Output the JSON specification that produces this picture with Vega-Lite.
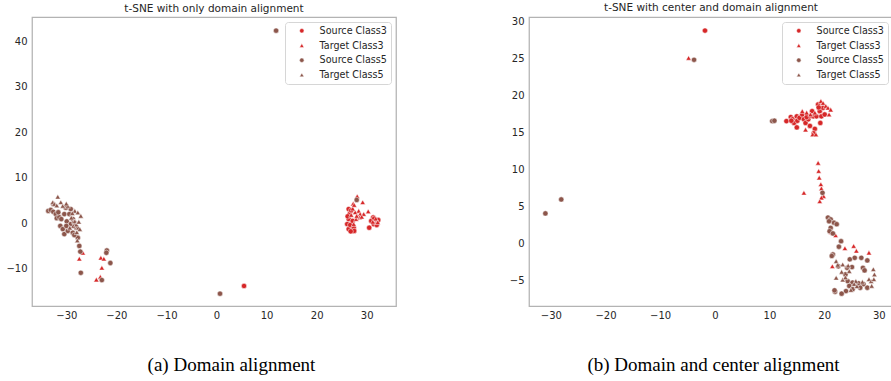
{
  "$schema": "https://vega.github.io/schema/vega-lite/v6.json",
  "background": "white",
  "padding": {"left": 5, "top": 2, "right": 0, "bottom": 0},
  "spacing": 111,
  "config": {
    "view": {"stroke": "#b3b3b3", "strokeWidth": 1.25},
    "font": "DejaVu Sans",
    "axis": {
      "grid": false, "ticks": false, "domain": false,
      "labelFont": "DejaVu Sans", "labelFontSize": 10, "labelColor": "#262626",
      "titleFont": "Liberation Serif", "titleFontSize": 19, "titleFontWeight": "normal", "titleColor": "#000000"
    },
    "axisX": {"labelPadding": 4},
    "axisY": {"labelPadding": 5},
    "title": {"font": "DejaVu Sans", "fontSize": 10.5, "fontWeight": "normal", "color": "#262626", "offset": 3},
    "legend": {
      "orient": "top-right", "offset": 5, "padding": 4,
      "strokeColor": "#d6d6d6", "fillColor": "white", "cornerRadius": 3,
      "labelFont": "DejaVu Sans", "labelFontSize": 9.6, "labelColor": "#262626",
      "symbolSize": 20, "symbolOffset": 8, "labelOffset": 13, "rowPadding": 3.7,
      "symbolStrokeWidth": 0.5, "symbolStrokeColor": "white"
    }
  },
  "datasets": {
    "a": [
      {"x": 5.5, "y": -13.8, "g": "Source Class3"},
      {"x": 26.4, "y": 3.1, "g": "Source Class3"},
      {"x": 26.6, "y": 2.0, "g": "Source Class3"},
      {"x": 26.4, "y": 0.9, "g": "Source Class3"},
      {"x": 26.1, "y": -0.2, "g": "Source Class3"},
      {"x": 26.4, "y": -1.3, "g": "Source Class3"},
      {"x": 27.1, "y": -1.7, "g": "Source Class3"},
      {"x": 27.4, "y": -1.0, "g": "Source Class3"},
      {"x": 26.7, "y": -0.4, "g": "Source Class3"},
      {"x": 27.5, "y": -1.7, "g": "Source Class3"},
      {"x": 26.9, "y": 2.8, "g": "Source Class3"},
      {"x": 27.2, "y": 0.5, "g": "Source Class3"},
      {"x": 26.8, "y": -1.8, "g": "Source Class3"},
      {"x": 31.3, "y": 1.25, "g": "Source Class3"},
      {"x": 31.6, "y": 0.5, "g": "Source Class3"},
      {"x": 32.0, "y": 0.15, "g": "Source Class3"},
      {"x": 32.3, "y": 0.7, "g": "Source Class3"},
      {"x": 30.9, "y": 0.5, "g": "Source Class3"},
      {"x": 30.5, "y": -1.0, "g": "Source Class3"},
      {"x": 31.4, "y": -0.2, "g": "Source Class3"},
      {"x": 32.0, "y": -0.4, "g": "Source Class3"},
      {"x": 31.5, "y": 1.0, "g": "Source Class3"},
      {"x": 26.2, "y": 1.5, "g": "Source Class3"},
      {"x": -26.7, "y": -6.5, "g": "Target Class3"},
      {"x": -27.4, "y": -7.8, "g": "Target Class3"},
      {"x": -23.1, "y": -7.6, "g": "Target Class3"},
      {"x": -22.5, "y": -7.8, "g": "Target Class3"},
      {"x": -22.9, "y": -9.8, "g": "Target Class3"},
      {"x": -23.2, "y": -11.8, "g": "Target Class3"},
      {"x": -24.0, "y": -12.4, "g": "Target Class3"},
      {"x": 28.1, "y": 5.9, "g": "Target Class3"},
      {"x": 27.3, "y": 4.3, "g": "Target Class3"},
      {"x": 29.2, "y": 4.6, "g": "Target Class3"},
      {"x": 30.3, "y": 2.6, "g": "Target Class3"},
      {"x": 28.4, "y": 2.7, "g": "Target Class3"},
      {"x": 28.7, "y": 2.0, "g": "Target Class3"},
      {"x": 27.7, "y": 2.4, "g": "Target Class3"},
      {"x": 27.9, "y": 0.9, "g": "Target Class3"},
      {"x": 28.6, "y": 1.25, "g": "Target Class3"},
      {"x": 29.4, "y": 2.0, "g": "Target Class3"},
      {"x": 27.2, "y": 3.2, "g": "Target Class3"},
      {"x": 28.0, "y": 1.6, "g": "Target Class3"},
      {"x": 26.9, "y": 1.8, "g": "Target Class3"},
      {"x": 29.0, "y": 1.4, "g": "Target Class3"},
      {"x": 27.4, "y": -0.2, "g": "Target Class3"},
      {"x": 31.8, "y": 1.0, "g": "Target Class3"},
      {"x": 32.2, "y": 0.2, "g": "Target Class3"},
      {"x": 31.2, "y": 0.3, "g": "Target Class3"},
      {"x": 27.5, "y": 4.0, "g": "Target Class3"},
      {"x": 11.9, "y": 42.3, "g": "Source Class5"},
      {"x": 0.7, "y": -15.5, "g": "Source Class5"},
      {"x": 28.0, "y": 5.1, "g": "Source Class5"},
      {"x": -33.6, "y": 2.7, "g": "Source Class5"},
      {"x": -33.1, "y": 2.9, "g": "Source Class5"},
      {"x": -32.6, "y": 2.5, "g": "Source Class5"},
      {"x": -32.1, "y": 2.0, "g": "Source Class5"},
      {"x": -31.9, "y": 1.1, "g": "Source Class5"},
      {"x": -31.4, "y": 1.3, "g": "Source Class5"},
      {"x": -30.4, "y": 2.0, "g": "Source Class5"},
      {"x": -31.2, "y": -0.6, "g": "Source Class5"},
      {"x": -30.7, "y": -1.3, "g": "Source Class5"},
      {"x": -30.4, "y": -2.4, "g": "Source Class5"},
      {"x": -29.7, "y": -1.7, "g": "Source Class5"},
      {"x": -29.9, "y": 0.4, "g": "Source Class5"},
      {"x": -29.1, "y": -0.2, "g": "Source Class5"},
      {"x": -28.7, "y": -2.1, "g": "Source Class5"},
      {"x": -28.7, "y": 0.9, "g": "Source Class5"},
      {"x": -28.0, "y": -1.0, "g": "Source Class5"},
      {"x": -29.4, "y": 2.0, "g": "Source Class5"},
      {"x": -29.1, "y": 3.1, "g": "Source Class5"},
      {"x": -30.1, "y": 3.4, "g": "Source Class5"},
      {"x": -31.6, "y": 2.4, "g": "Source Class5"},
      {"x": -27.7, "y": -3.2, "g": "Source Class5"},
      {"x": -27.4, "y": -5.0, "g": "Source Class5"},
      {"x": -27.2, "y": -6.25, "g": "Source Class5"},
      {"x": -27.1, "y": -10.9, "g": "Source Class5"},
      {"x": -21.9, "y": -6.0, "g": "Source Class5"},
      {"x": -22.0, "y": -6.5, "g": "Source Class5"},
      {"x": -21.2, "y": -8.75, "g": "Source Class5"},
      {"x": -22.9, "y": -12.5, "g": "Source Class5"},
      {"x": -32.6, "y": 4.2, "g": "Source Class5"},
      {"x": -28.4, "y": 0.1, "g": "Source Class5"},
      {"x": -30.0, "y": -0.6, "g": "Source Class5"},
      {"x": -28.4, "y": -2.6, "g": "Source Class5"},
      {"x": -31.0, "y": 0.9, "g": "Source Class5"},
      {"x": -31.7, "y": 5.8, "g": "Target Class5"},
      {"x": -32.7, "y": 4.6, "g": "Target Class5"},
      {"x": -32.4, "y": 4.2, "g": "Target Class5"},
      {"x": -31.1, "y": 4.6, "g": "Target Class5"},
      {"x": -30.7, "y": 3.8, "g": "Target Class5"},
      {"x": -29.7, "y": 3.8, "g": "Target Class5"},
      {"x": -28.3, "y": 2.7, "g": "Target Class5"},
      {"x": -27.7, "y": 2.35, "g": "Target Class5"},
      {"x": -27.1, "y": 1.6, "g": "Target Class5"},
      {"x": -27.6, "y": -1.0, "g": "Target Class5"},
      {"x": -27.3, "y": -1.3, "g": "Target Class5"},
      {"x": -28.3, "y": 0.4, "g": "Target Class5"},
      {"x": -29.0, "y": 1.2, "g": "Target Class5"},
      {"x": -30.0, "y": 4.3, "g": "Target Class5"},
      {"x": -31.9, "y": 3.9, "g": "Target Class5"},
      {"x": -28.6, "y": -0.6, "g": "Target Class5"},
      {"x": -28.0, "y": -0.3, "g": "Target Class5"},
      {"x": -27.9, "y": -2.0, "g": "Target Class5"},
      {"x": -27.8, "y": -3.8, "g": "Target Class5"},
      {"x": -29.3, "y": -1.0, "g": "Target Class5"},
      {"x": -27.5, "y": 0.3, "g": "Target Class5"},
      {"x": -28.8, "y": 2.2, "g": "Target Class5"}
    ],
    "b": [
      {"x": -1.8, "y": 28.8, "g": "Source Class3"},
      {"x": 13.1, "y": 16.55, "g": "Source Class3"},
      {"x": 13.9, "y": 17.1, "g": "Source Class3"},
      {"x": 14.2, "y": 16.8, "g": "Source Class3"},
      {"x": 14.5, "y": 16.3, "g": "Source Class3"},
      {"x": 15.0, "y": 17.2, "g": "Source Class3"},
      {"x": 15.1, "y": 16.6, "g": "Source Class3"},
      {"x": 15.0, "y": 15.7, "g": "Source Class3"},
      {"x": 15.5, "y": 17.0, "g": "Source Class3"},
      {"x": 16.0, "y": 17.45, "g": "Source Class3"},
      {"x": 16.3, "y": 16.8, "g": "Source Class3"},
      {"x": 16.6, "y": 16.3, "g": "Source Class3"},
      {"x": 17.1, "y": 16.8, "g": "Source Class3"},
      {"x": 17.3, "y": 17.2, "g": "Source Class3"},
      {"x": 17.4, "y": 15.9, "g": "Source Class3"},
      {"x": 17.8, "y": 17.9, "g": "Source Class3"},
      {"x": 18.0, "y": 17.2, "g": "Source Class3"},
      {"x": 18.3, "y": 15.5, "g": "Source Class3"},
      {"x": 18.6, "y": 17.2, "g": "Source Class3"},
      {"x": 18.9, "y": 18.8, "g": "Source Class3"},
      {"x": 19.2, "y": 17.9, "g": "Source Class3"},
      {"x": 19.5, "y": 17.2, "g": "Source Class3"},
      {"x": 19.8, "y": 18.35, "g": "Source Class3"},
      {"x": 20.1, "y": 17.45, "g": "Source Class3"},
      {"x": 19.3, "y": 16.3, "g": "Source Class3"},
      {"x": 14.0, "y": 16.6, "g": "Source Class3"},
      {"x": 16.8, "y": 17.1, "g": "Source Class3"},
      {"x": 18.1, "y": 14.9, "g": "Source Class3"},
      {"x": 19.0, "y": 18.4, "g": "Source Class3"},
      {"x": -4.8, "y": 25.1, "g": "Target Class3"},
      {"x": 16.0, "y": 17.9, "g": "Target Class3"},
      {"x": 16.6, "y": 15.4, "g": "Target Class3"},
      {"x": 17.9, "y": 14.75, "g": "Target Class3"},
      {"x": 18.5, "y": 14.75, "g": "Target Class3"},
      {"x": 19.4, "y": 19.25, "g": "Target Class3"},
      {"x": 19.8, "y": 19.0, "g": "Target Class3"},
      {"x": 20.3, "y": 18.6, "g": "Target Class3"},
      {"x": 20.7, "y": 18.35, "g": "Target Class3"},
      {"x": 21.2, "y": 18.1, "g": "Target Class3"},
      {"x": 20.9, "y": 17.45, "g": "Target Class3"},
      {"x": 16.8, "y": 17.7, "g": "Target Class3"},
      {"x": 17.5, "y": 17.45, "g": "Target Class3"},
      {"x": 18.3, "y": 17.7, "g": "Target Class3"},
      {"x": 18.9, "y": 10.9, "g": "Target Class3"},
      {"x": 19.0, "y": 9.8, "g": "Target Class3"},
      {"x": 19.1, "y": 8.9, "g": "Target Class3"},
      {"x": 19.4, "y": 8.0, "g": "Target Class3"},
      {"x": 19.5, "y": 7.45, "g": "Target Class3"},
      {"x": 19.9, "y": 6.4, "g": "Target Class3"},
      {"x": 19.5, "y": 6.2, "g": "Target Class3"},
      {"x": 19.2, "y": 5.7, "g": "Target Class3"},
      {"x": 16.3, "y": 6.85, "g": "Target Class3"},
      {"x": 22.1, "y": 1.1, "g": "Target Class3"},
      {"x": 23.8, "y": -0.65, "g": "Target Class3"},
      {"x": 25.4, "y": -0.35, "g": "Target Class3"},
      {"x": 25.9, "y": -1.0, "g": "Target Class3"},
      {"x": 28.2, "y": -1.25, "g": "Target Class3"},
      {"x": 21.5, "y": -3.1, "g": "Target Class3"},
      {"x": 21.3, "y": 1.5, "g": "Target Class3"},
      {"x": -3.8, "y": 24.85, "g": "Source Class5"},
      {"x": -31.0, "y": 4.06, "g": "Source Class5"},
      {"x": -28.1, "y": 5.95, "g": "Source Class5"},
      {"x": 10.5, "y": 16.55, "g": "Source Class5"},
      {"x": 10.9, "y": 16.6, "g": "Source Class5"},
      {"x": 19.7, "y": 6.85, "g": "Source Class5"},
      {"x": 20.7, "y": 3.5, "g": "Source Class5"},
      {"x": 21.2, "y": 3.25, "g": "Source Class5"},
      {"x": 21.8, "y": 2.8, "g": "Source Class5"},
      {"x": 22.3, "y": 2.6, "g": "Source Class5"},
      {"x": 21.2, "y": 2.1, "g": "Source Class5"},
      {"x": 21.0, "y": 1.65, "g": "Source Class5"},
      {"x": 21.6, "y": 1.35, "g": "Source Class5"},
      {"x": 23.1, "y": 0.3, "g": "Source Class5"},
      {"x": 22.7, "y": -0.45, "g": "Source Class5"},
      {"x": 21.6, "y": -1.5, "g": "Source Class5"},
      {"x": 26.8, "y": -1.95, "g": "Source Class5"},
      {"x": 24.7, "y": -2.15, "g": "Source Class5"},
      {"x": 25.6, "y": -1.95, "g": "Source Class5"},
      {"x": 27.9, "y": -2.3, "g": "Source Class5"},
      {"x": 22.6, "y": -3.1, "g": "Source Class5"},
      {"x": 24.2, "y": -3.3, "g": "Source Class5"},
      {"x": 25.1, "y": -3.2, "g": "Source Class5"},
      {"x": 27.1, "y": -3.3, "g": "Source Class5"},
      {"x": 27.4, "y": -3.65, "g": "Source Class5"},
      {"x": 23.9, "y": -4.2, "g": "Source Class5"},
      {"x": 24.3, "y": -5.1, "g": "Source Class5"},
      {"x": 25.2, "y": -5.3, "g": "Source Class5"},
      {"x": 24.6, "y": -5.75, "g": "Source Class5"},
      {"x": 26.3, "y": -5.4, "g": "Source Class5"},
      {"x": 27.2, "y": -5.5, "g": "Source Class5"},
      {"x": 27.9, "y": -6.0, "g": "Source Class5"},
      {"x": 25.2, "y": -6.2, "g": "Source Class5"},
      {"x": 24.0, "y": -6.45, "g": "Source Class5"},
      {"x": 23.2, "y": -6.8, "g": "Source Class5"},
      {"x": 22.0, "y": -6.55, "g": "Source Class5"},
      {"x": 21.9, "y": -6.35, "g": "Source Class5"},
      {"x": 26.6, "y": -6.0, "g": "Source Class5"},
      {"x": 20.9, "y": 3.0, "g": "Source Class5"},
      {"x": 21.4, "y": -1.7, "g": "Source Class5"},
      {"x": 22.2, "y": -2.4, "g": "Target Class5"},
      {"x": 23.4, "y": -2.85, "g": "Target Class5"},
      {"x": 29.0, "y": -3.5, "g": "Target Class5"},
      {"x": 29.2, "y": -4.2, "g": "Target Class5"},
      {"x": 23.2, "y": -3.85, "g": "Target Class5"},
      {"x": 24.6, "y": -3.75, "g": "Target Class5"},
      {"x": 22.2, "y": -4.65, "g": "Target Class5"},
      {"x": 23.4, "y": -4.9, "g": "Target Class5"},
      {"x": 25.8, "y": -5.1, "g": "Target Class5"},
      {"x": 25.5, "y": -5.5, "g": "Target Class5"},
      {"x": 28.2, "y": -4.85, "g": "Target Class5"},
      {"x": 28.6, "y": -5.1, "g": "Target Class5"},
      {"x": 29.1, "y": -4.85, "g": "Target Class5"},
      {"x": 28.7, "y": -5.75, "g": "Target Class5"},
      {"x": 23.9, "y": -4.6, "g": "Target Class5"},
      {"x": 24.4, "y": -3.0, "g": "Target Class5"},
      {"x": 26.0, "y": -5.8, "g": "Target Class5"},
      {"x": 27.0, "y": -5.2, "g": "Target Class5"},
      {"x": 22.5, "y": -2.9, "g": "Target Class5"},
      {"x": 24.9, "y": -6.3, "g": "Target Class5"}
    ]
  },
  "hconcat": [
    {
      "width": 364,
      "height": 289,
      "title": "t-SNE with only domain alignment",
      "data": {"name": "a"},
      "mark": {"type": "point", "filled": true, "size": 28, "opacity": 1, "stroke": "white", "strokeWidth": 0.5},
      "encoding": {
        "x": {
          "field": "x", "type": "quantitative",
          "scale": {"domain": [-36.85, 35.85], "nice": false, "zero": false},
          "axis": {"values": [-30, -20, -10, 0, 10, 20, 30], "title": "(a) Domain alignment", "titlePadding": 35, "titleX": 199}
        },
        "y": {
          "field": "y", "type": "quantitative",
          "scale": {"domain": [-18.2, 45.3], "nice": false, "zero": false},
          "axis": {"values": [-10, 0, 10, 20, 30, 40], "title": null}
        },
        "color": {
          "field": "g", "type": "nominal",
          "scale": {"domain": ["Source Class3", "Target Class3", "Source Class5", "Target Class5"], "range": ["#d62728", "#d62728", "#8c564b", "#8c564b"]},
          "legend": {"title": null}
        },
        "shape": {
          "field": "g", "type": "nominal",
          "scale": {"domain": ["Source Class3", "Target Class3", "Source Class5", "Target Class5"], "range": ["circle", "triangle-up", "circle", "triangle-up"]},
          "legend": {"title": null}
        }
      }
    },
    {
      "width": 364,
      "height": 289,
      "title": "t-SNE with center and domain alignment",
      "data": {"name": "b"},
      "mark": {"type": "point", "filled": true, "size": 28, "opacity": 1, "stroke": "white", "strokeWidth": 0.5},
      "encoding": {
        "x": {
          "field": "x", "type": "quantitative",
          "scale": {"domain": [-34.0, 32.6], "nice": false, "zero": false},
          "axis": {"values": [-30, -20, -10, 0, 10, 20, 30], "title": "(b) Domain and center alignment", "titlePadding": 35, "titleX": 184}
        },
        "y": {
          "field": "y", "type": "quantitative",
          "scale": {"domain": [-8.47, 30.64], "nice": false, "zero": false},
          "axis": {"values": [-5, 0, 5, 10, 15, 20, 25, 30], "title": null}
        },
        "color": {
          "field": "g", "type": "nominal",
          "scale": {"domain": ["Source Class3", "Target Class3", "Source Class5", "Target Class5"], "range": ["#d62728", "#d62728", "#8c564b", "#8c564b"]},
          "legend": {"title": null}
        },
        "shape": {
          "field": "g", "type": "nominal",
          "scale": {"domain": ["Source Class3", "Target Class3", "Source Class5", "Target Class5"], "range": ["circle", "triangle-up", "circle", "triangle-up"]},
          "legend": {"title": null}
        }
      }
    }
  ],
  "resolve": {"scale": {"x": "independent", "y": "independent"}, "legend": {"color": "independent", "shape": "independent"}}
}
